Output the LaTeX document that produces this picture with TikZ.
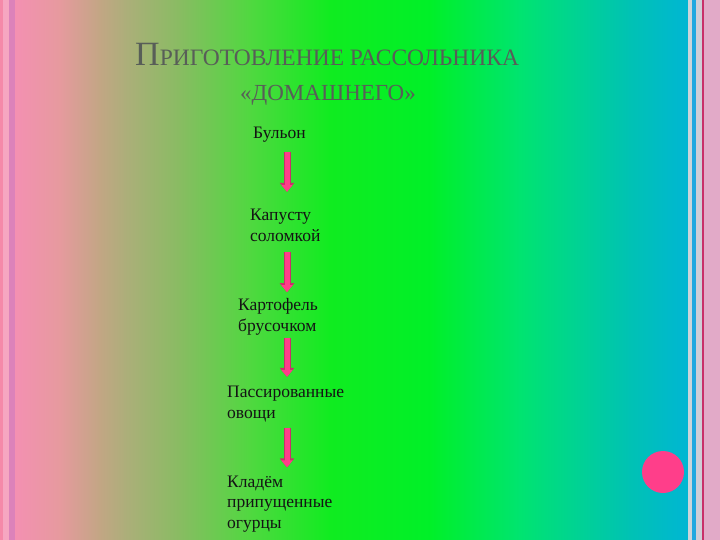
\documentclass[tikz,border=0pt]{standalone}
\usepackage{fontspec}
\setmainfont{Liberation Serif}
\usepackage{xcolor}
\usepackage{tikz}
\usetikzlibrary{arrows.meta,positioning}
\definecolor{bgA}{RGB}{244,144,178}
\definecolor{bgB}{RGB}{230,154,158}
\definecolor{bgC}{RGB}{194,166,132}
\definecolor{bgD}{RGB}{173,174,122}
\definecolor{bgE}{RGB}{136,188,98}
\definecolor{bgF}{RGB}{80,216,64}
\definecolor{bgG}{RGB}{16,236,32}
\definecolor{bgH}{RGB}{0,240,40}
\definecolor{bgI}{RGB}{0,228,112}
\definecolor{bgJ}{RGB}{0,194,180}
\definecolor{bgK}{RGB}{0,182,212}
\definecolor{mpink}{RGB}{255,62,138}
\definecolor{medge}{RGB}{200,48,106}
\definecolor{mgrey}{RGB}{88,94,88}
\definecolor{sblue}{RGB}{32,168,224}
\definecolor{spink}{RGB}{226,170,200}

\begin{document}
\begin{tikzpicture}[x=1pt,y=-1pt]
    \tikzstyle{stage}=[inner sep=0pt,anchor=base west,align=left,text=black!92,
      font=\fontsize{17.5}{20.5}\selectfont]
    \tikzstyle{headline}=[inner sep=0pt,anchor=base west,text=mgrey]
    \tikzstyle{blockarr}=[draw=mpink,line width=5pt,-{Triangle[width=11pt,length=7pt]},
      preaction={draw=medge,line width=7pt,-{Triangle[width=14pt,length=9pt]}}]

    % background
    \useasboundingbox (0,0) rectangle (720,540);
    \foreach \xa/\xb/\ca/\cb in {15/60/bgA/bgB,60/100/bgB/bgC,100/125/bgC/bgD,
        125/180/bgD/bgE,180/250/bgE/bgF,250/330/bgF/bgG,330/430/bgG/bgH,
        430/520/bgH/bgI,520/630/bgI/bgJ,630/689/bgJ/bgK}
      \shade[left color=\ca,right color=\cb] (\xa-0.3,0) rectangle (\xb+0.3,540);
    \fill[bgA!95!red] (0,0) rectangle (3,540);
    \fill[bgA!80!white] (3,0) rectangle (9,540);
    \fill[bgA!90!blue] (9,0) rectangle (15,540);
    \fill[cyan!20!gray!40!white] (688,0) rectangle (692,540);
    \fill[sblue] (692,0) rectangle (696,540);
    \fill[blue!10!gray!35!white] (696,0) rectangle (702,540);
    \fill[medge] (702,0) rectangle (703.5,540);
    \fill[spink] (703.5,0) rectangle (720,540);

    \node[circle,fill=mpink,minimum size=42pt,inner sep=0pt] (dot) at (663,472) {};

    % title
    \node[headline] (title1) at (135,66)
      {\fontsize{34}{34}\selectfont П\fontsize{23.5}{23.5}\selectfont РИГОТОВЛЕНИЕ РАССОЛЬНИКА};
    \node[headline] (title2) at (240,101)
      {\fontsize{23}{23}\selectfont «ДОМАШНЕГО»};

    % steps (base = last line)
    \node[stage] (bulyon) at (253,139) {Бульон};
    \node[stage] (kapusta) at (250,241) {Капусту\\соломкой};
    \node[stage] (kartofel) at (238,331) {Картофель\\брусочком};
    \node[stage] (ovoshchi) at (227,418) {Пассированные\\овощи};
    \node[stage] (ogurcy) at (227,528) {Кладём\\припущенные\\огурцы};
    \coordinate (ax) at (287,0);

    \draw[blockarr,shorten <=9pt,shorten >=17pt] (bulyon.south -| ax) -- (kapusta.north -| ax);
    \draw[blockarr,shorten <=11pt,shorten >=6pt] (kapusta.south -| ax) -- (kartofel.north -| ax);
    \draw[blockarr,shorten <=3pt,shorten >=9pt] (kartofel.south -| ax) -- (ovoshchi.north -| ax);
    \draw[blockarr,shorten <=6pt,shorten >=8pt] (ovoshchi.south -| ax) -- (ogurcy.north -| ax);
\end{tikzpicture}
\end{document}
